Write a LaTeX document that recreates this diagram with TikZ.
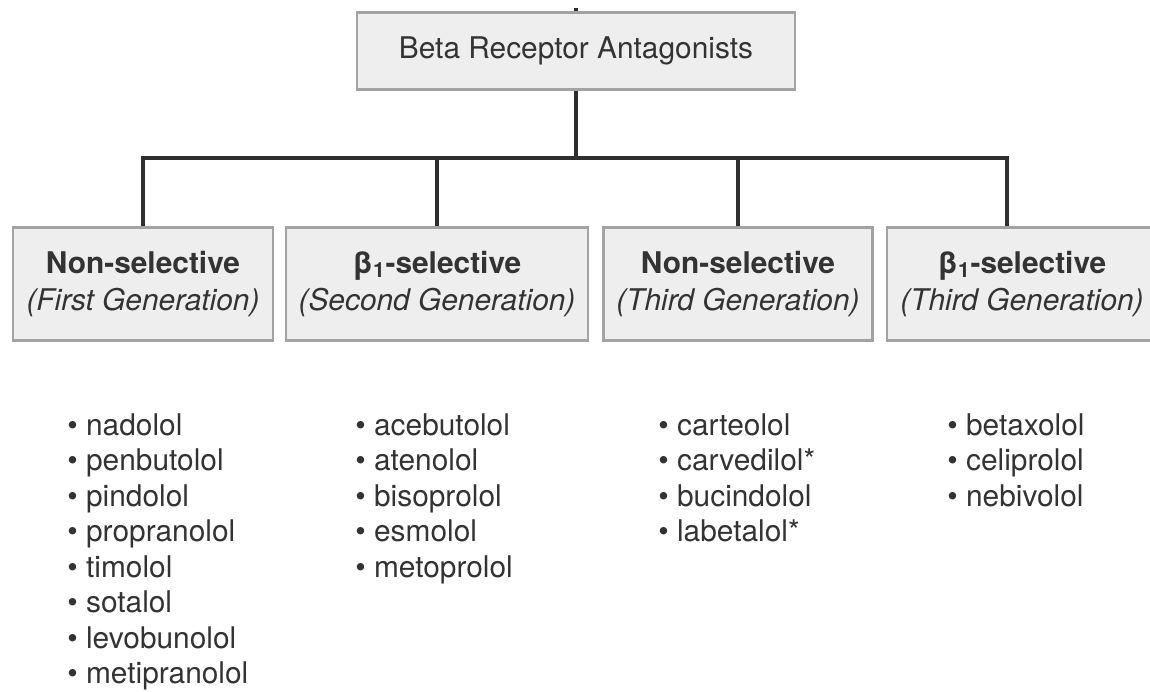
\documentclass[tikz,border=0pt]{standalone}
\usepackage{fontspec}
\setmainfont{TeX Gyre Heros}
\usepackage{xcolor}
\usepackage{tikz}

\definecolor{boxfill}{HTML}{EEEEEE}
\definecolor{boxline}{HTML}{A2A2A2}
\definecolor{linkline}{HTML}{2E2E2E}
\definecolor{inktext}{HTML}{333333}

\tikzset{
  rootbox/.style={draw=boxline, line width=1.6pt, fill=boxfill, text=inktext,
    minimum width=8.76cm, minimum height=1.54cm, font=\fontsize{17}{20}\selectfont},
  catbox/.style={draw=boxline, line width=1.6pt, fill=boxfill, text=inktext,
    minimum height=2.26cm, align=center, font=\fontsize{17}{21.5}\selectfont},
  druglist/.style={anchor=north west, inner sep=0pt, align=left, text=inktext,
    font=\fontsize{17}{20.2}\selectfont},
  link/.style={draw=linkline, line width=2pt}
}

\begin{document}
\begin{tikzpicture}[x=0.02cm, y=-0.02cm]
\fill[white] (0,0) rectangle (1150,691);
\useasboundingbox (0,0) rectangle (1150,691);

% Column positions (px)
\def\rowcat{284}
\def\rowlist{413}

% Root box
\node[rootbox] (root) at (576,51) {Beta Receptor Antagonists};
\coordinate (stub) at (576,8);

% Class boxes
\node[catbox, minimum width=5.2cm]  (catA) at (143,\rowcat) {\textbf{Non-selective}\\\textit{(First Generation)}};
\node[catbox, minimum width=6.04cm] (catB) at (437,\rowcat) {\textbf{β\textsubscript{1}-selective}\\\textit{(Second Generation)}};
\node[catbox, minimum width=5.38cm] (catC) at (738,\rowcat) {\textbf{Non-selective}\\\textit{(Third Generation)}};
\node[catbox, minimum width=5.4cm]  (catD) at (1022,\rowcat) {\textbf{β\textsubscript{1}-selective}\\\textit{(Third Generation)}};

% Connectors
\coordinate (busR) at (1007,158);
\draw[link] (root.north) -- (stub);
\draw[link] (root.south) -- (root.south |- busR);
\draw[link] (catA.north) |- (busR) -- (busR |- catD.north);
\draw[link] (catB.north) -- (catB.north |- busR);
\draw[link] (catC.north) -- (catC.north |- busR);

% Drug lists
\node[druglist] (listA) at (67,\rowlist) {• nadolol\\• penbutolol\\• pindolol\\• propranolol\\• timolol\\• sotalol\\• levobunolol\\• metipranolol};
\node[druglist] (listB) at (355,\rowlist) {• acebutolol\\• atenolol\\• bisoprolol\\• esmolol\\• metoprolol};
\node[druglist] (listC) at (658,\rowlist) {• carteolol\\• carvedilol*\\• bucindolol\\• labetalol*};
\node[druglist] (listD) at (947,\rowlist) {• betaxolol\\• celiprolol\\• nebivolol};
\end{tikzpicture}
\end{document}
